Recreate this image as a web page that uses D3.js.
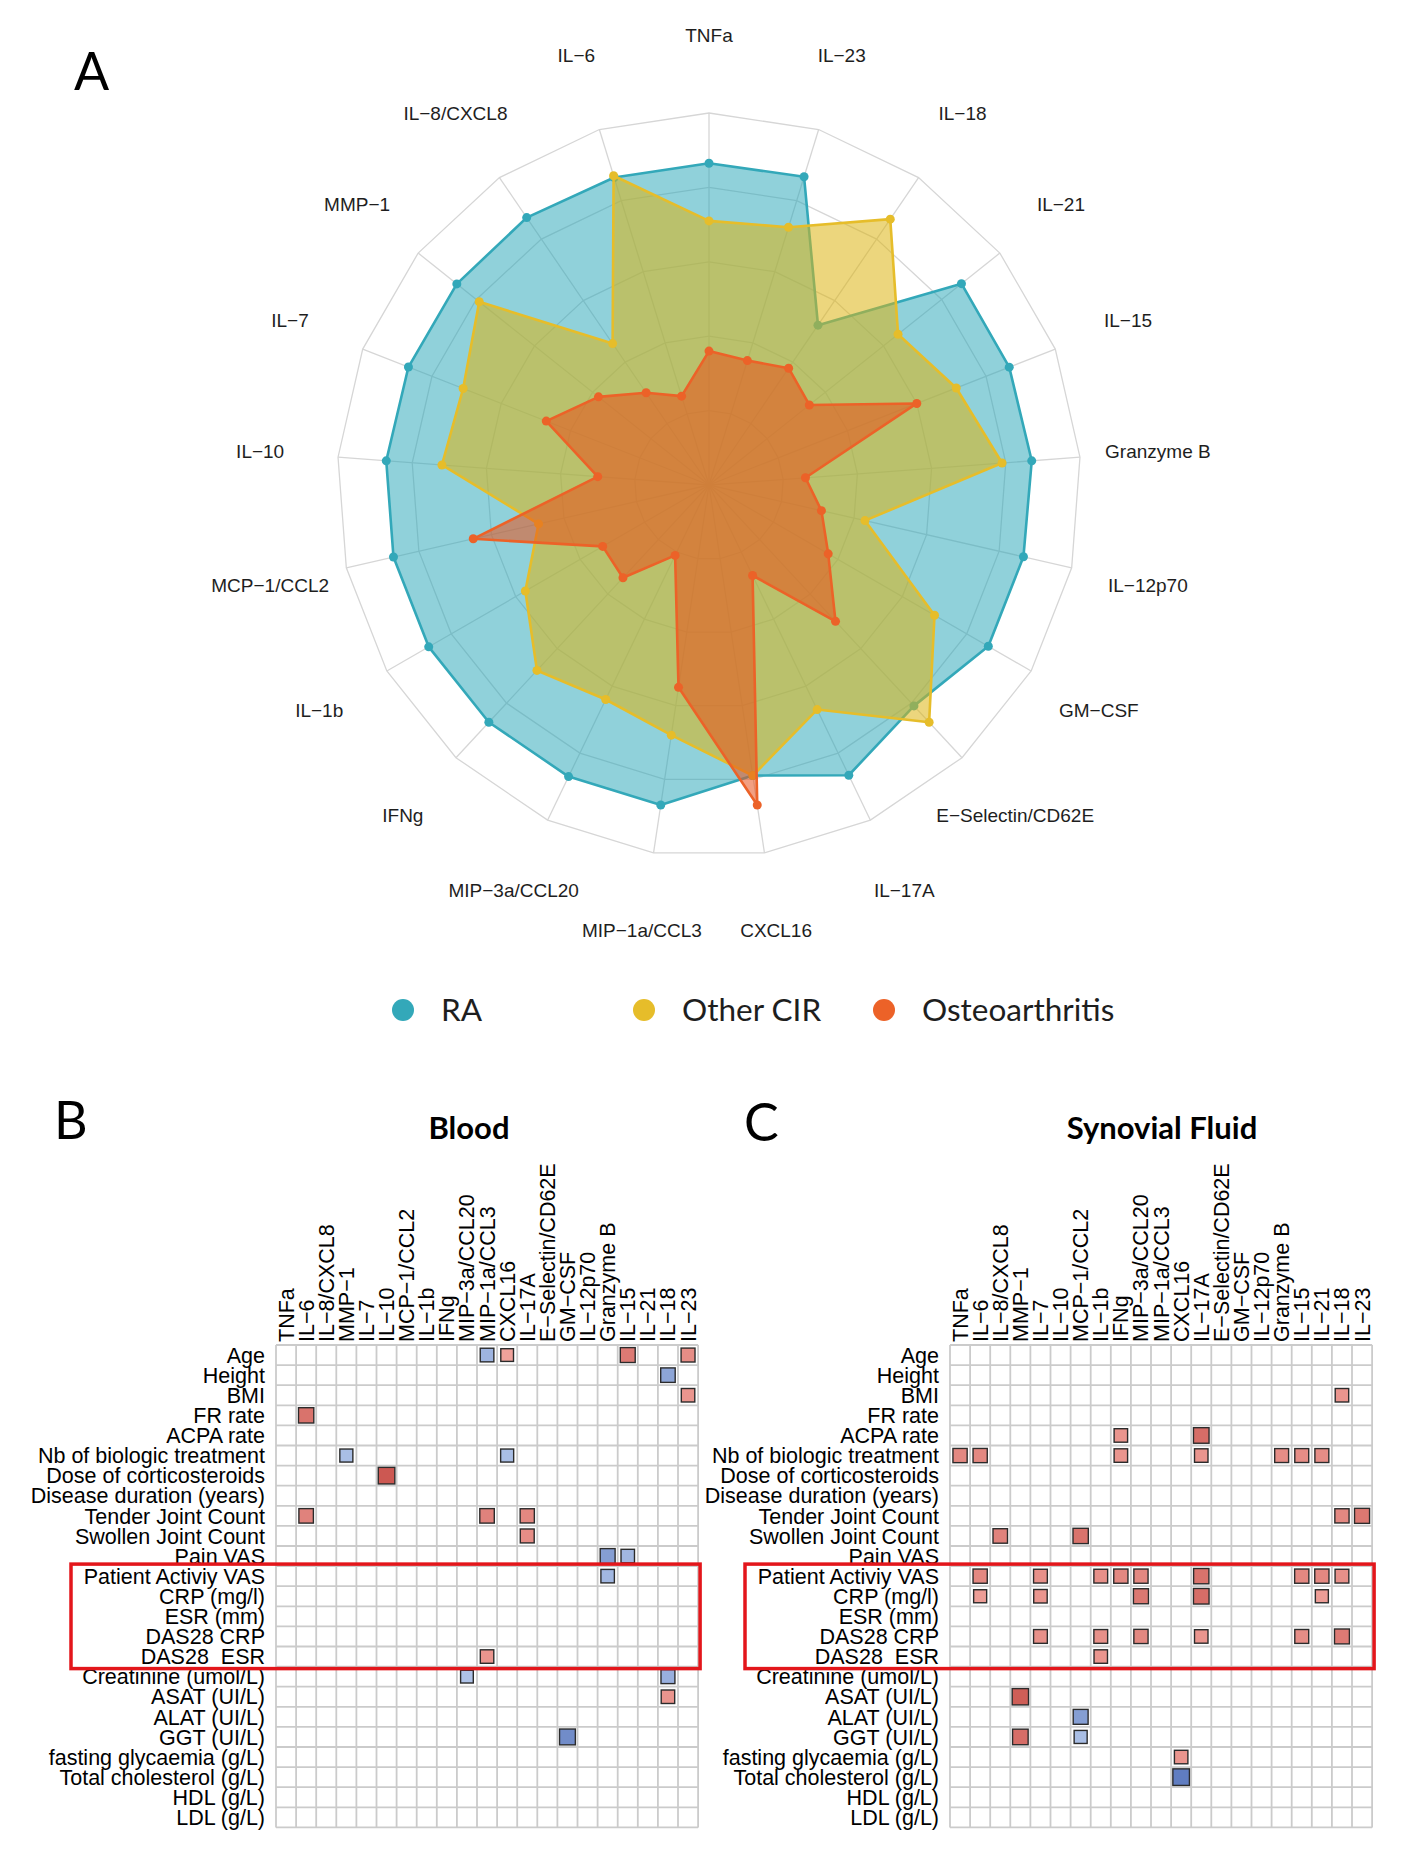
<!DOCTYPE html>
<html>
<head>
<meta charset="utf-8">
<script src="https://cdn.jsdelivr.net/npm/d3@7"></script>
<style>
  body { margin: 0; background: #fff; }
</style>
</head>
<body>
<div id="chart"></div>
<script>

// ---- panel A : radar, axes clockwise from the top ----
const radarAxes = ["TNFa", "IL-23", "IL-18", "IL-21", "IL-15", "Granzyme B", "IL-12p70", "GM-CSF",
    "E-Selectin/CD62E", "IL-17A", "CXCL16", "MIP-1a/CCL3", "MIP-3a/CCL20", "IFNg", "IL-1b",
    "MCP-1/CCL2", "IL-10", "IL-7", "MMP-1", "IL-8/CXCL8", "IL-6"]

const raValues = [0.865, 0.867, 0.52, 0.868, 0.867, 0.87, 0.867, 0.867, 0.81, 0.866, 0.79,
    0.87, 0.87, 0.87, 0.87, 0.87, 0.87, 0.868, 0.867, 0.87, 0.865]
const otherCirValues = [0.71, 0.725, 0.865, 0.65, 0.714, 0.79, 0.43, 0.70, 0.87, 0.67, 0.79,
    0.68, 0.64, 0.68, 0.57, 0.47, 0.72, 0.71, 0.79, 0.46, 0.87]
const oaValues = [0.36, 0.35, 0.38, 0.345, 0.60, 0.26, 0.31, 0.37, 0.50, 0.27, 0.87,
    0.55, 0.21, 0.34, 0.33, 0.65, 0.30, 0.47, 0.38, 0.30, 0.25]

const seriesNames = ["RA", "Other CIR", "Osteoarthritis"]
const gridLevels = [0.2, 0.4, 0.6, 0.8, 1]

// ---- panels B / C : correlation grids ----
const cytokines = ["TNFa", "IL-6", "IL-8/CXCL8", "MMP-1", "IL-7", "IL-10", "MCP-1/CCL2", "IL-1b", "IFNg",
    "MIP-3a/CCL20", "MIP-1a/CCL3", "CXCL16", "IL-17A", "E-Selectin/CD62E", "GM-CSF", "IL-12p70",
    "Granzyme B", "IL-15", "IL-21", "IL-18", "IL-23"]

const clinicalVars = ["Age", "Height", "BMI", "FR rate", "ACPA rate", "Nb of biologic treatment",
    "Dose of corticosteroids", "Disease duration (years)", "Tender Joint Count", "Swollen Joint Count",
    "Pain VAS", "Patient Activiy VAS", "CRP (mg/l)", "ESR (mm)", "DAS28 CRP", "DAS28  ESR",
    "Creatinine (umol/L)", "ASAT (UI/L)", "ALAT (UI/L)", "GGT (UI/L)", "fasting glycaemia (g/L)",
    "Total cholesterol (g/L)", "HDL (g/L)", "LDL (g/L)"]

const highlightedVars = ["Patient Activiy VAS", "CRP (mg/l)", "ESR (mm)", "DAS28 CRP", "DAS28  ESR"]

// [clinical variable, cytokine, r]
const bloodCorr = [
    ["Age", "MIP-1a/CCL3", -0.46], ["Age", "CXCL16", 0.40], ["Age", "IL-15", 0.55], ["Age", "IL-23", 0.48],
    ["Height", "IL-18", -0.52],
    ["BMI", "IL-23", 0.45],
    ["FR rate", "IL-6", 0.58],
    ["Nb of biologic treatment", "MMP-1", -0.42], ["Nb of biologic treatment", "CXCL16", -0.42],
    ["Dose of corticosteroids", "IL-10", 0.68],
    ["Tender Joint Count", "IL-6", 0.52], ["Tender Joint Count", "MIP-1a/CCL3", 0.52], ["Tender Joint Count", "IL-17A", 0.50],
    ["Swollen Joint Count", "IL-17A", 0.48],
    ["Pain VAS", "Granzyme B", -0.55], ["Pain VAS", "IL-15", -0.45],
    ["Patient Activiy VAS", "Granzyme B", -0.45],
    ["DAS28  ESR", "MIP-1a/CCL3", 0.45],
    ["Creatinine (umol/L)", "MIP-3a/CCL20", -0.40], ["Creatinine (umol/L)", "IL-18", -0.48],
    ["ASAT (UI/L)", "IL-18", 0.45],
    ["GGT (UI/L)", "GM-CSF", -0.62]
]

const synovialCorr = [
    ["BMI", "IL-18", 0.45],
    ["ACPA rate", "IFNg", 0.45], ["ACPA rate", "IL-17A", 0.60],
    ["Nb of biologic treatment", "TNFa", 0.50], ["Nb of biologic treatment", "IL-6", 0.50],
    ["Nb of biologic treatment", "IFNg", 0.45], ["Nb of biologic treatment", "IL-17A", 0.45],
    ["Nb of biologic treatment", "Granzyme B", 0.48], ["Nb of biologic treatment", "IL-15", 0.48],
    ["Nb of biologic treatment", "IL-21", 0.48],
    ["Tender Joint Count", "IL-18", 0.50], ["Tender Joint Count", "IL-23", 0.56],
    ["Swollen Joint Count", "IL-8/CXCL8", 0.52], ["Swollen Joint Count", "MCP-1/CCL2", 0.58],
    ["Patient Activiy VAS", "IL-6", 0.50], ["Patient Activiy VAS", "IL-7", 0.47], ["Patient Activiy VAS", "IL-1b", 0.47],
    ["Patient Activiy VAS", "IFNg", 0.50], ["Patient Activiy VAS", "MIP-3a/CCL20", 0.50], ["Patient Activiy VAS", "IL-17A", 0.58],
    ["Patient Activiy VAS", "IL-15", 0.50], ["Patient Activiy VAS", "IL-21", 0.50], ["Patient Activiy VAS", "IL-18", 0.47],
    ["CRP (mg/l)", "IL-6", 0.42], ["CRP (mg/l)", "IL-7", 0.45], ["CRP (mg/l)", "MIP-3a/CCL20", 0.56],
    ["CRP (mg/l)", "IL-17A", 0.60], ["CRP (mg/l)", "IL-21", 0.42],
    ["DAS28 CRP", "IL-7", 0.47], ["DAS28 CRP", "IL-1b", 0.47], ["DAS28 CRP", "MIP-3a/CCL20", 0.50],
    ["DAS28 CRP", "IL-17A", 0.45], ["DAS28 CRP", "IL-15", 0.48], ["DAS28 CRP", "IL-18", 0.55],
    ["DAS28  ESR", "IL-1b", 0.45],
    ["ASAT (UI/L)", "MMP-1", 0.66],
    ["ALAT (UI/L)", "MCP-1/CCL2", -0.55],
    ["GGT (UI/L)", "MMP-1", 0.60], ["GGT (UI/L)", "MCP-1/CCL2", -0.42],
    ["fasting glycaemia (g/L)", "CXCL16", 0.45],
    ["Total cholesterol (g/L)", "CXCL16", -0.68]
]


const width = 1402, height = 1876
const minus = s => s.replace(/-/g, "\u2212")

const svg = d3.select("#chart")
    .append("svg")
    .attr("width", width)
    .attr("height", height)
    .style("font-family", "'Liberation Sans', Arial, sans-serif")

svg.append("rect").attr("width", width).attr("height", height).attr("fill", "#fff")

// panel letters
svg.append("g")
    .selectAll("text")
    .data([["A", 74, 90], ["B", 54, 1139], ["C", 744, 1141]])
    .join("text")
    .attr("x", d => d[1]).attr("y", d => d[2])
    .style("font-family", "Lato, sans-serif")
    .style("font-size", "52px")
    .text(d => d[0])


// ================= radar =================
const cx = 709, cy = 485, R = 372
const color = { "RA": "#2AA6B9", "Other CIR": "#DDB412", "Osteoarthritis": "#E7501A" }
const strokeColor = { "RA": "#33A8B9", "Other CIR": "#E6BD2A", "Osteoarthritis": "#EC6228" }

const r = d3.scaleLinear().domain([0, 1]).range([0, R])
const angle = d3.scaleLinear().domain([0, radarAxes.length]).range([0, 2 * Math.PI])

const radar = svg.append("g").attr("transform", `translate(${cx},${cy})`)

// grid rings
radar.append("g")
    .selectAll("path")
    .data(gridLevels)
    .join("path")
    .attr("d", lev => d3.lineRadial()
        .angle((d, i) => angle(i))
        .radius(() => r(lev))
        .curve(d3.curveLinearClosed)(radarAxes))
    .attr("fill", "none")
    .attr("stroke", "#d6d6d6")
    .attr("stroke-width", 1.3)

// spokes
radar.append("g")
    .selectAll("line")
    .data(radarAxes)
    .join("line")
    .attr("x1", 0).attr("y1", 0)
    .attr("x2", (d, i) => r(1) * Math.sin(angle(i)))
    .attr("y2", (d, i) => -r(1) * Math.cos(angle(i)))
    .attr("stroke", "#d6d6d6")
    .attr("stroke-width", 1.3)

const radarLine = d3.lineRadial()
    .angle((d, i) => angle(i))
    .radius(d => r(d))
    .curve(d3.curveLinearClosed)

const seriesValues = [raValues, otherCirValues, oaValues]

seriesNames.forEach((name, k) => {
    const vals = seriesValues[k]
    const g = radar.append("g")
    g.append("path")
        .attr("d", radarLine(vals))
        .attr("fill", color[name])
        .attr("fill-opacity", name === "RA" ? 0.52 : 0.55)
        .attr("stroke", strokeColor[name])
        .attr("stroke-width", 2.6)
        .attr("stroke-linejoin", "round")
    g.selectAll("circle")
        .data(vals)
        .join("circle")
        .attr("cx", (d, i) => r(d) * Math.sin(angle(i)))
        .attr("cy", (d, i) => -r(d) * Math.cos(angle(i)))
        .attr("r", 4.5)
        .attr("fill", strokeColor[name])
})

// axis labels
radar.append("g")
    .selectAll("text")
    .data(radarAxes)
    .join("text")
    .attr("x", (d, i) => r(1.21) * Math.sin(angle(i)))
    .attr("y", (d, i) => -r(1.21) * Math.cos(angle(i)))
    .attr("dy", "0.35em")
    .attr("text-anchor", "middle")
    .style("font-size", "19px")
    .attr("fill", "#1e1e1e")
    .text(d => minus(d))

// legend
const legendX = [403, 644, 884]
const legend = svg.append("g")
    .selectAll("g")
    .data(seriesNames)
    .join("g")
    .attr("transform", (d, i) => `translate(${legendX[i]},1010)`)
legend.append("circle").attr("r", 11).attr("fill", d => strokeColor[d])
legend.append("text")
    .attr("x", 38).attr("dy", "0.36em")
    .style("font-family", "Lato, sans-serif")
    .style("font-size", "31.5px")
    .attr("fill", "#1e1e1e")
    .text(d => d)


// ================= correlation grids =================
const cell = 20.1
const gridTop = 1345

const fillScale = d3.scaleLinear()
    .domain([-0.7, -0.4, 0, 0.4, 0.7])
    .range(["#5A78BE", "#AFC3E8", "#ffffff", "#F0A29B", "#C9534D"])
    .clamp(true)
const sideScale = d3.scaleSqrt().domain([0, 1]).range([0, cell])

function drawGrid(x0, corr, title, titleX) {
    const x = d3.scaleBand().domain(cytokines).range([x0, x0 + cell * cytokines.length])
    const y = d3.scaleBand().domain(clinicalVars).range([gridTop, gridTop + cell * clinicalVars.length])
    const g = svg.append("g")

    // title
    g.append("text")
        .attr("x", titleX).attr("y", 1139)
        .attr("text-anchor", "middle")
        .style("font-family", "Lato, sans-serif")
        .style("font-weight", "bold")
        .style("font-size", "31px")
        .text(title)

    // grid lines
    g.append("g")
        .selectAll("line")
        .data(d3.range(cytokines.length + 1))
        .join("line")
        .attr("x1", i => x0 + i * cell).attr("x2", i => x0 + i * cell)
        .attr("y1", y.range()[0]).attr("y2", y.range()[1])
        .attr("stroke", "#cbcbcb").attr("stroke-width", 1.8)
    g.append("g")
        .selectAll("line")
        .data(d3.range(clinicalVars.length + 1))
        .join("line")
        .attr("y1", i => gridTop + i * cell).attr("y2", i => gridTop + i * cell)
        .attr("x1", x.range()[0]).attr("x2", x.range()[1])
        .attr("stroke", "#cbcbcb").attr("stroke-width", 1.8)

    // column labels
    g.append("g")
        .selectAll("text")
        .data(cytokines)
        .join("text")
        .attr("transform", d => `translate(${x(d) + x.bandwidth() / 2 + 7.5},${gridTop - 3}) rotate(-90)`)
        .style("font-size", "21.5px")
        .text(d => minus(d))

    // row labels
    g.append("g")
        .selectAll("text")
        .data(clinicalVars)
        .join("text")
        .attr("x", x0 - 11)
        .attr("y", d => y(d) + y.bandwidth() / 2)
        .attr("dy", "0.36em")
        .attr("text-anchor", "end")
        .style("font-size", "21.5px")
        .style("white-space", "pre")
        .text(d => d)

    // squares
    g.append("g")
        .selectAll("rect")
        .data(corr)
        .join("rect")
        .attr("x", d => x(d[1]) + (cell - sideScale(Math.abs(d[2]))) / 2)
        .attr("y", d => y(d[0]) + (cell - sideScale(Math.abs(d[2]))) / 2)
        .attr("width", d => sideScale(Math.abs(d[2])))
        .attr("height", d => sideScale(Math.abs(d[2])))
        .attr("fill", d => fillScale(d[2]))
        .attr("stroke", "#2b2b2b")
        .attr("stroke-width", 1.4)

    // red box round the disease activity rows
    const hTop = y(highlightedVars[0]) - 2
    const hBot = y(highlightedVars[highlightedVars.length - 1]) + cell + 2
    g.append("rect")
        .attr("x", x0 - 205)
        .attr("y", hTop)
        .attr("width", cell * cytokines.length + 207)
        .attr("height", hBot - hTop)
        .attr("fill", "none")
        .attr("stroke", "#E3161B")
        .attr("stroke-width", 3.5)
}

drawGrid(276, bloodCorr, "Blood", 469)
drawGrid(950, synovialCorr, "Synovial Fluid", 1162)

</script>
</body>
</html>
